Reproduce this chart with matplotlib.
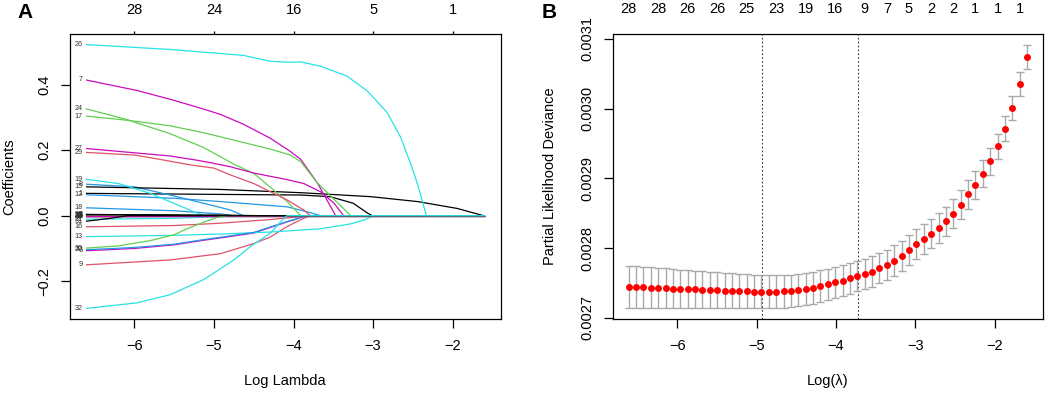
import matplotlib.pyplot as plt
import numpy as np

plt.rcParams['font.family'] = ['Liberation Sans', 'DejaVu Sans']
plt.rcParams['axes.unicode_minus'] = True

# R default palette
BLACK, RED, GREEN, BLUE, CYAN, MAGENTA = '#000000', '#DF536B', '#61D04F', '#2297E6', '#28E2E5', '#CD0BBC'

# lambda path (log scale), shared by both panels
lam_first, lam_last, n_lambda = -6.61, -1.595, 55

# ---------------- panel A: coefficient paths ----------------
# label -> (log lambda points, coefficient values)
coef_paths = {
    1: ([-6.61, -3.91, -3.54, -3.25, -3.07, -3.01], [0.068, 0.063, 0.058, 0.038, 0.008, 0.0]),
    2: ([-6.61, -5.8, -5.3], [0.004, 0.002, 0.0]),
    3: ([-6.61, -5.5, -4.9], [-0.004, -0.002, 0.0]),
    4: ([-6.61], [0.0]),
    5: ([-6.61], [0.0]),
    6: ([-6.61, -6.0, -5.5, -5.13, -4.92, -4.5, -4.08, -3.87, -3.83],
        [-0.107, -0.100, -0.089, -0.075, -0.068, -0.053, -0.019, -0.003, 0.0]),
    7: ([-6.61, -5.97, -5.55, -5.21, -4.92, -4.63, -4.29, -4.04, -3.91, -3.70, -3.47],
        [0.414, 0.382, 0.355, 0.331, 0.309, 0.279, 0.236, 0.196, 0.172, 0.100, 0.0]),
    8: ([-6.61, -6.0, -5.5, -5.0, -4.79, -4.63], [0.096, 0.088, 0.060, 0.030, 0.017, 0.0]),
    9: ([-6.61, -5.55, -4.92, -4.5, -4.29, -4.08, -3.87, -3.79],
        [-0.150, -0.135, -0.116, -0.085, -0.065, -0.033, -0.008, 0.0]),
    10: ([-6.61, -5.0], [0.002, 0.0]),
    11: ([-6.61, -5.5], [-0.002, 0.0]),
    12: ([-6.61, -5.5, -4.92, -4.08, -3.80, -3.66], [0.064, 0.053, 0.043, 0.027, 0.010, 0.0]),
    13: ([-6.61, -5.5, -4.92, -4.3, -3.66, -3.28, -3.10, -2.99],
         [-0.064, -0.060, -0.056, -0.050, -0.040, -0.025, -0.012, 0.0]),
    14: ([-6.61, -5.6], [0.001, 0.0]),
    15: ([-6.61, -4.92, -3.90, -3.03, -2.44, -1.94, -1.61], [0.088, 0.080, 0.070, 0.058, 0.043, 0.022, 0.0]),
    16: ([-6.61, -5.5, -4.92, -4.3, -3.79], [-0.034, -0.030, -0.023, -0.012, 0.0]),
    17: ([-6.61, -6.09, -5.55, -5.13, -4.71, -4.29, -4.04, -3.91, -3.70, -3.49, -3.28],
         [0.304, 0.291, 0.274, 0.253, 0.228, 0.203, 0.185, 0.165, 0.100, 0.050, 0.0]),
    18: ([-6.61, -5.5, -4.9, -4.75], [0.024, 0.015, 0.005, 0.0]),
    19: ([-6.61, -6.2, -5.80, -5.46, -5.13], [0.111, 0.098, 0.068, 0.033, 0.0]),
    20: ([-6.61, -6.0, -5.5, -5.13, -4.92, -4.5, -4.08, -3.87, -3.83],
         [-0.104, -0.097, -0.087, -0.073, -0.066, -0.051, -0.018, -0.003, 0.0]),
    21: ([-6.61, -5.5, -4.9, -4.75], [-0.011, -0.008, -0.003, 0.0]),
    22: ([-6.61, -5.8], [-0.001, 0.0]),
    23: ([-6.61], [0.0]),
    24: ([-6.61, -6.09, -5.97, -5.55, -5.13, -4.75, -4.50, -4.25, -4.08, -3.91],
         [0.326, 0.293, 0.283, 0.250, 0.208, 0.157, 0.129, 0.078, 0.043, 0.0]),
    25: ([-6.61], [0.0]),
    26: ([-6.61, -5.55, -4.63, -4.29, -4.08, -3.91, -3.66, -3.33, -3.07, -2.82, -2.65, -2.51, -2.44, -2.38, -2.33],
         [0.522, 0.507, 0.489, 0.471, 0.468, 0.469, 0.456, 0.426, 0.380, 0.314, 0.238, 0.147, 0.096, 0.045, 0.0]),
    27: ([-6.61, -5.55, -5.21, -5.01, -4.79, -4.50, -4.08, -3.87, -3.66, -3.49, -3.37],
         [0.205, 0.182, 0.169, 0.160, 0.149, 0.130, 0.110, 0.098, 0.073, 0.038, 0.0]),
    28: ([-6.61, -5.0, -4.4], [0.003, 0.002, 0.0]),
    29: ([-6.61, -6.0, -5.64, -5.30, -5.0, -4.79, -4.50, -4.08, -3.87, -3.79],
         [0.193, 0.185, 0.170, 0.155, 0.145, 0.124, 0.098, 0.048, 0.017, 0.0]),
    30: ([-6.61, -6.2, -5.8, -5.5, -5.34, -5.13, -4.96, -4.83],
         [-0.099, -0.092, -0.076, -0.058, -0.040, -0.020, -0.005, 0.0]),
    31: ([-6.61, -6.3, -6.09], [-0.017, -0.008, 0.0]),
    32: ([-6.61, -5.97, -5.55, -5.13, -4.75, -4.54, -4.29, -4.12, -4.08],
         [-0.283, -0.266, -0.241, -0.195, -0.135, -0.094, -0.053, -0.008, 0.0]),
}
path_colors = {
    1: BLACK, 2: BLACK, 3: RED, 4: GREEN, 5: BLUE, 6: MAGENTA, 7: MAGENTA, 8: BLUE,
    9: RED, 10: BLACK, 11: RED, 12: BLUE, 13: CYAN, 14: MAGENTA, 15: BLACK, 16: RED,
    17: GREEN, 18: BLUE, 19: CYAN, 20: BLUE, 21: CYAN, 22: GREEN, 23: RED, 24: GREEN,
    25: MAGENTA, 26: CYAN, 27: MAGENTA, 28: BLACK, 29: RED, 30: GREEN, 31: BLACK, 32: CYAN,
}
top_ticks_a = [-6, -5, -4, -3, -2]
top_nz_a = [28, 24, 16, 5, 1]

# ---------------- panel B: cross-validation ----------------
cv_mean = [0.0027438, 0.0027437, 0.0027434, 0.0027431, 0.0027427, 0.0027423, 0.0027418, 0.0027414,
           0.0027410, 0.0027405, 0.0027401, 0.0027397, 0.0027393, 0.0027388, 0.0027384, 0.0027380,
           0.0027377, 0.0027374, 0.0027373, 0.0027374, 0.0027376, 0.0027379, 0.0027385, 0.0027394,
           0.0027408, 0.0027428, 0.0027452, 0.0027477, 0.0027506, 0.0027534, 0.0027567, 0.0027596,
           0.0027630, 0.0027663, 0.0027711, 0.0027759, 0.0027821, 0.0027888, 0.0027974, 0.0028054,
           0.0028132, 0.0028208, 0.0028289, 0.0028384, 0.0028494, 0.0028623, 0.0028771, 0.0028910,
           0.0029067, 0.0029244, 0.0029459, 0.0029712, 0.0030009, 0.0030353, 0.0030748]
cv_se = [30.1, 29.8, 29.4, 29.1, 28.7, 28.4, 27.9, 27.5, 27.2, 26.8,
         26.5, 26.1, 25.8, 25.4, 25.1, 24.6, 24.4, 24.1, 23.8, 23.6,
         23.5, 23.4, 23.2, 23.1, 22.9, 22.8, 22.6, 22.5, 22.4, 22.2,
         22.1, 21.9, 21.9, 21.8, 21.8, 21.6, 21.6, 21.5, 21.5, 21.3,
         21.3, 21.2, 21.2, 21.1, 21.1, 20.8, 20.5, 20.1, 19.6, 19.1,
         18.3, 17.9, 17.6, 17.3, 17.2]  # x 1e-6
log_lambda_min = -4.935
log_lambda_1se = -3.729
top_idx_b = [0, 4, 8, 12, 16, 20, 24, 28, 32, 35, 38, 41, 44, 47, 50, 53]
top_nz_b = [28, 28, 26, 26, 25, 23, 19, 16, 9, 7, 5, 2, 2, 1, 1, 1]

log_lambda = np.linspace(lam_first, lam_last, n_lambda)
mean = np.array(cv_mean)
se = np.array(cv_se) * 1e-6

FS = 10.5
W, H = 1045, 393
fig = plt.figure(figsize=(W / 100, H / 100), dpi=100)
ax1 = fig.add_axes([70 / W, 74 / H, 430.7 / W, 285 / H])
ax2 = fig.add_axes([612.7 / W, 74 / H, 430.3 / W, 285 / H])


def r_range(lo, hi):
    pad = 0.04 * (hi - lo)
    return lo - pad, hi + pad


def style_axes(ax):
    for s in ax.spines.values():
        s.set_linewidth(0.9)
    ax.tick_params(axis='both', direction='out', length=6.5, width=0.9, labelsize=FS)
    ax.tick_params(axis='x', pad=8)
    ax.tick_params(axis='y', pad=7, labelrotation=90)
    for lbl in ax.get_yticklabels():
        lbl.set_va('center')


# ---- panel A ----
for lab in sorted(coef_paths):
    xs, ys = coef_paths[lab]
    xs, ys = list(xs), list(ys)
    if xs[-1] < lam_last:
        xs.append(lam_last)
        ys.append(0.0)
    ax1.plot(xs, ys, color=path_colors[lab], lw=0.9, solid_capstyle='butt')
    ax1.text(lam_first - 0.04, ys[0], str(lab), fontsize=5.2, color='#333333',
             ha='right', va='center')

all_y = [v for xs, ys in coef_paths.values() for v in ys]
ax1.set_xlim(*r_range(lam_first, lam_last))
ax1.set_ylim(*r_range(min(all_y), max(all_y)))
ax1.set_xticks([-6, -5, -4, -3, -2])
ax1.set_yticks([-0.2, 0.0, 0.2, 0.4])
ax1.set_yticklabels(['\u22120.2', '0.0', '0.2', '0.4'])
style_axes(ax1)
top1 = ax1.secondary_xaxis('top')
top1.set_xticks(top_ticks_a, [str(v) for v in top_nz_a])
top1.tick_params(direction='out', length=2.5, width=0.9, labelsize=FS, pad=10)
top1.spines['top'].set_visible(False)

# ---- panel B ----
ax2.errorbar(log_lambda, mean, yerr=se, fmt='none', ecolor='#A9A9A9', elinewidth=1.0,
             capsize=3.1, capthick=1.0, zorder=2)
ax2.plot(log_lambda, mean, 'o', color='red', ms=5, mec='none', zorder=3)
for v in (log_lambda_min, log_lambda_1se):
    ax2.axvline(v, color='#333333', lw=0.8, ls=(0, (1.5, 2)), zorder=1)
ax2.set_xlim(*r_range(lam_first, lam_last))
ax2.set_ylim(*r_range((mean - se).min(), (mean + se).max()))
ax2.set_xticks([-6, -5, -4, -3, -2])
ax2.set_yticks([0.0027, 0.0028, 0.0029, 0.0030, 0.0031])
ax2.set_yticklabels(['0.0027', '0.0028', '0.0029', '0.0030', '0.0031'])
style_axes(ax2)
top2 = ax2.secondary_xaxis('top')
top2.set_xticks([log_lambda[i] for i in top_idx_b], [str(v) for v in top_nz_b])
top2.tick_params(length=0, labelsize=FS, pad=13)
top2.spines['top'].set_visible(False)

# axis titles
fig.text(285 / W, 1 - 381 / H, 'Log Lambda', fontsize=FS, ha='center', va='center')
fig.text(828 / W, 1 - 381 / H, 'Log(\u03bb)', fontsize=FS, ha='center', va='center')
fig.text(9 / W, 1 - 176.5 / H, 'Coefficients', fontsize=FS, rotation=90, ha='center', va='center')
fig.text(550 / W, 1 - 176.5 / H, 'Partial Likelihood Deviance', fontsize=FS, rotation=90,
         ha='center', va='center')

# panel letters
fig.text(25 / W, 1 - 13 / H, 'A', fontsize=15, fontweight='bold', ha='center', va='center')
fig.text(549 / W, 1 - 13 / H, 'B', fontsize=15, fontweight='bold', ha='center', va='center')

fig.savefig('out.png', dpi=100)
